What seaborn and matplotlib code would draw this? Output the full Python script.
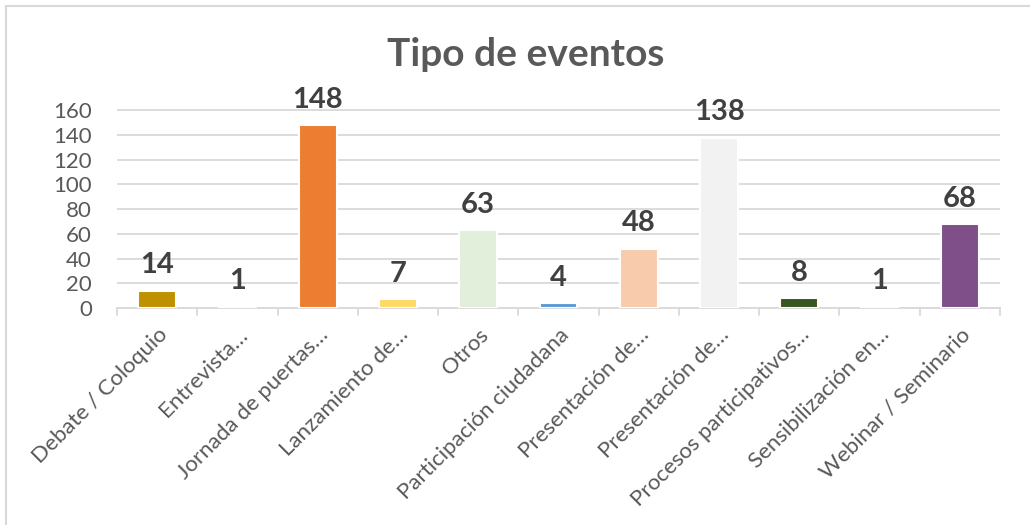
import matplotlib.pyplot as plt
import seaborn as sns
import pandas as pd
from matplotlib.patches import Rectangle

categories = ['Debate / Coloquio', 'Entrevista…', 'Jornada de puertas…', 'Lanzamiento de…',
              'Otros', 'Participación ciudadana', 'Presentación de…', 'Presentación de…',
              'Procesos participativos…', 'Sensibilización en…', 'Webinar / Seminario']
values = [14, 1, 148, 7, 63, 4, 48, 138, 8, 1, 68]
colors = ['#BF9000', '#FFFFFF', '#ED7D31', '#FFD966', '#E2EFDA', '#5B9BD5',
          '#F8CBAD', '#F2F2F2', '#375623', '#FFFFFF', '#7E4F88']

sns.set_style('white')
plt.rcParams['font.family'] = ['Lato', 'DejaVu Sans']

df = pd.DataFrame({'pos': range(len(values)), 'valor': values})

fig = plt.figure(figsize=(10.3, 5.25), dpi=100)
ax = fig.add_axes([117 / 1030, 1 - 308 / 525, 883 / 1030, 210 / 525])

sns.barplot(data=df, x='pos', y='valor', hue='pos', palette=colors, legend=False,
            saturation=1, width=0.47, edgecolor='white', linewidth=1.5, ax=ax, zorder=3)

ax.set_ylim(0, 170)
ax.set_yticks(range(0, 161, 20))
ax.set_xlim(-0.5, len(values) - 0.5)
ax.yaxis.grid(True, color='#D9D9D9', linewidth=1.3, zorder=0)
ax.set_axisbelow(True)
for s in ['top', 'right', 'left']:
    ax.spines[s].set_visible(False)
ax.spines['bottom'].set_color('#D9D9D9')
ax.spines['bottom'].set_linewidth(1.3)

ax.set_xticks(range(len(values)))
ax.set_xticklabels(categories, rotation=45, ha='right', rotation_mode='anchor',
                   fontsize=16, color='#595959')
ax.tick_params(axis='x', length=0, pad=12)
ax.tick_params(axis='y', length=0, labelsize=16, labelcolor='#595959', pad=18)
# tick marks between categories
for b in range(len(values) + 1):
    ax.plot([b - 0.5, b - 0.5], [0, -6], color='#D9D9D9', lw=1.3, clip_on=False)
ax.set_xlabel('')
ax.set_ylabel('')

for i, v in enumerate(values):
    ax.text(i, v + 10, str(v), ha='center', va='bottom', fontsize=21,
            fontweight='bold', color='#404040')

fig.text(0.51, 1 - 55 / 525, 'Tipo de eventos', ha='center', va='center',
         fontsize=28, fontweight='bold', color='#595959')

fig.patches.append(Rectangle((6 / 1030, -0.1), 1.2, 1 - 6 / 525 + 0.1,
                             transform=fig.transFigure, fill=False,
                             edgecolor='#D9D9D9', linewidth=1.5))

fig.savefig('out.png', dpi=100)
